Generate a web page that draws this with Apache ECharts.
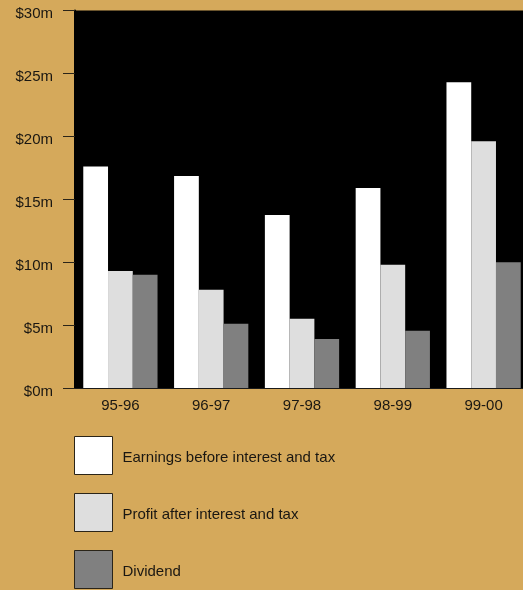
<!DOCTYPE html>
<html>
<head>
<meta charset="utf-8">
<script src="https://cdn.jsdelivr.net/npm/echarts@6/dist/echarts.min.js"></script>
<style>
  html, body { margin: 0; padding: 0; background: #D5A95B; }
  #chart { width: 523px; height: 590px; }
</style>
</head>
<body>
<div id="chart"></div>
<script>
// Financial years
const years = ['95-96', '96-97', '97-98', '98-99', '99-00'];

// Values in $ millions
const earningsBeforeTax = [17.6, 16.85, 13.75, 15.9, 24.3];
const profitAfterTax = [9.3, 7.8, 5.5, 9.8, 19.6];
const dividend = [9.0, 5.1, 3.9, 4.55, 10.0];

// Y axis ticks ($ millions)
const yMin = 0;
const yMax = 30;
const yStep = 5;

const seriesNames = [
  'Earnings before interest and tax',
  'Profit after interest and tax',
  'Dividend'
];

const font = 'Liberation Sans, Arial, Helvetica, sans-serif';
const textColor = '#1a1712';

const chart = echarts.init(document.getElementById('chart'), null, { renderer: 'canvas' });

const barStyle = (color) => ({ color: color, borderWidth: 0 });

chart.setOption({
  backgroundColor: '#D5A95B',
  animation: false,
  grid: {
    left: 75,
    top: 10.5,
    right: -6,
    bottom: 202,
    show: true,
    backgroundColor: '#000000',
    borderWidth: 0,
    containLabel: false,
    outerBoundsMode: 'none'
  },
  xAxis: {
    type: 'category',
    data: years,
    axisLine: { show: true, lineStyle: { color: '#1a1a1a', width: 1 } },
    axisTick: { show: false },
    axisLabel: { color: textColor, fontFamily: font, fontSize: 15, margin: 10 },
    splitLine: { show: false }
  },
  yAxis: {
    type: 'value',
    min: yMin,
    max: yMax,
    interval: yStep,
    axisLine: { show: true, lineStyle: { color: '#000000', width: 2 } },
    axisTick: { show: true, length: 12, lineStyle: { color: '#2a2418', width: 1 } },
    axisLabel: {
      color: textColor,
      fontFamily: font,
      fontSize: 15,
      margin: 22,
      formatter: (v) => '{v|$' + v + 'm}',
      rich: {
        v: {
          color: textColor,
          fontFamily: font,
          fontSize: 15,
          padding: [7, 0, 0, 0]
        }
      }
    },
    splitLine: { show: false }
  },
  legend: {
    orient: 'vertical',
    left: 74,
    top: 436,
    padding: 0,
    itemWidth: 38,
    itemHeight: 38,
    itemGap: 18,
    icon: 'rect',
    selectedMode: false,
    itemStyle: { borderColor: '#2a2418', borderWidth: 1 },
    formatter: (name) => '{t|' + name + '}',
    textStyle: {
      color: textColor,
      fontFamily: font,
      fontSize: 15,
      rich: {
        t: {
          color: textColor,
          fontFamily: font,
          fontSize: 15,
          padding: [5, 0, 0, 5]
        }
      }
    },
    data: seriesNames
  },
  series: [
    {
      name: seriesNames[0],
      type: 'bar',
      data: earningsBeforeTax,
      barWidth: 24.75,
      barGap: '0%',
      itemStyle: barStyle('#FFFFFF')
    },
    {
      name: seriesNames[1],
      type: 'bar',
      data: profitAfterTax,
      barWidth: 24.75,
      barGap: '0%',
      itemStyle: barStyle('#DEDEDE')
    },
    {
      name: seriesNames[2],
      type: 'bar',
      data: dividend,
      barWidth: 24.75,
      barGap: '0%',
      itemStyle: barStyle('#808080')
    }
  ]
});
</script>
</body>
</html>
